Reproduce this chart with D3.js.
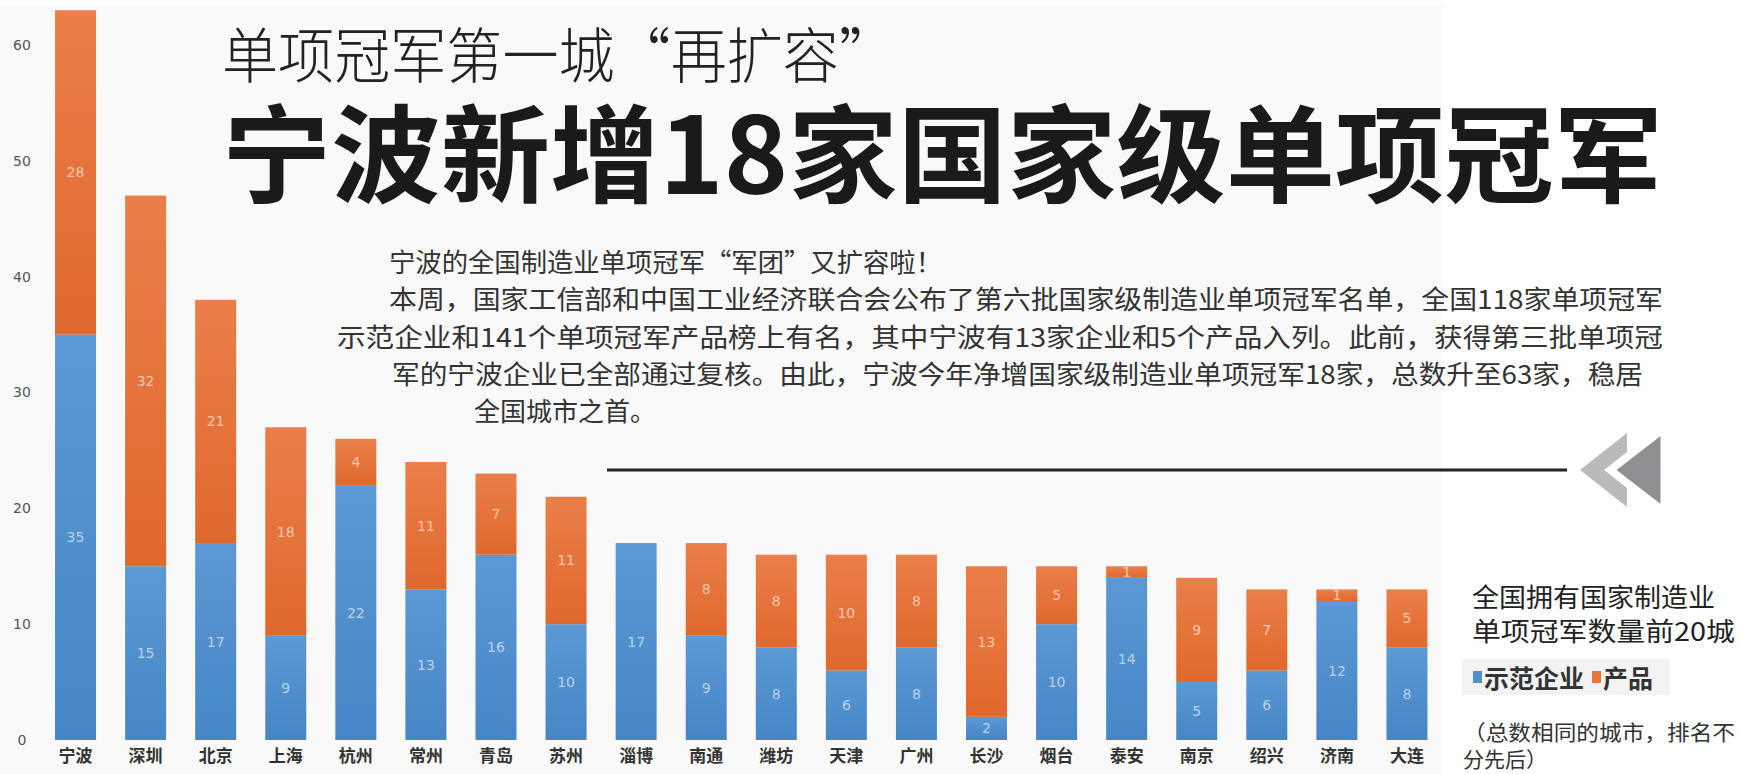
<!DOCTYPE html>
<html>
<head>
<meta charset="utf-8">
<script src="https://cdn.jsdelivr.net/npm/d3@7"></script>
<style>
  body { margin: 0; background: #fff; }
  svg { display: block; }
  .tick text { fill: #555; }
</style>
</head>
<body>
<script>
// data
var cities = ["宁波", "深圳", "北京", "上海", "杭州", "常州", "青岛", "苏州", "淄博", "南通",
              "潍坊", "天津", "广州", "长沙", "烟台", "泰安", "南京", "绍兴", "济南", "大连"];
var enterprises = [35, 15, 17, 9, 22, 13, 16, 10, 17, 9, 8, 6, 8, 2, 10, 14, 5, 6, 12, 8];
var products = [28, 32, 21, 18, 4, 11, 7, 11, 0, 8, 8, 10, 8, 13, 5, 1, 9, 7, 1, 5];
var seriesNames = ["示范企业", "产品"];
var yTicks = [0, 10, 20, 30, 40, 50, 60];

var bodyLines = [
    "宁波的全国制造业单项冠军“军团”又扩容啦！",
    "本周，国家工信部和中国工业经济联合会公布了第六批国家级制造业单项冠军名单，全国118家单项冠军",
    "示范企业和141个单项冠军产品榜上有名，其中宁波有13家企业和5个产品入列。此前，获得第三批单项冠",
    "军的宁波企业已全部通过复核。由此，宁波今年净增国家级制造业单项冠军18家，总数升至63家，稳居",
    "全国城市之首。"
];

// dimensions
var W = 1741, H = 774;
var colors = ["#4f90cd", "#e8743a"];
var font = "'Noto Sans CJK SC', 'Noto Sans', sans-serif";

var svg = d3.select("body").append("svg")
    .attr("width", W)
    .attr("height", H)
    .style("font-family", font);

var defs = svg.append("defs");
[["gBlue", "#5a99d3", "#4786c6"], ["gOrange", "#ea7f4a", "#e0682c"]].forEach(function(g) {
    var lg = defs.append("linearGradient").attr("id", g[0])
        .attr("x1", 0).attr("y1", 0).attr("x2", 0).attr("y2", 1);
    lg.append("stop").attr("offset", "0%").attr("stop-color", g[1]);
    lg.append("stop").attr("offset", "100%").attr("stop-color", g[2]);
});

// light panel behind chart
svg.append("rect").attr("x", 0).attr("y", 6).attr("width", 1443).attr("height", H - 6).attr("fill", "#f9f9f9");

// scales
var x = d3.scaleBand().domain(cities).range([40.5, 1442]).paddingInner(0.415).paddingOuter(0.2075);
var y = d3.scaleLinear().domain([0, 60]).range([740, 45]);

// stacked data
var table = cities.map(function(c, i) { return {city: c, e: enterprises[i], p: products[i]}; });
var stack = d3.stack().keys(["e", "p"])(table);

// y axis
var yAxis = svg.append("g")
    .attr("transform", "translate(32,0)")
    .call(d3.axisLeft(y).tickValues(yTicks).tickSize(0).tickPadding(0));
yAxis.select(".domain").remove();
yAxis.selectAll("text")
    .attr("text-anchor", "middle")
    .attr("x", -10)
    .style("font-size", "14px")
    .style("font-family", "'DejaVu Sans', sans-serif");

// bars
var layers = svg.selectAll(".layer")
    .data(stack)
    .enter().append("g")
    .attr("class", "layer")
    .attr("fill", function(d, i) { return i == 0 ? "url(#gBlue)" : "url(#gOrange)"; });

layers.selectAll("rect")
    .data(function(d) { return d; })
    .enter().append("rect")
    .attr("x", function(d) { return x(d.data.city); })
    .attr("y", function(d) { return y(d[1]); })
    .attr("width", x.bandwidth())
    .attr("height", function(d) { return y(d[0]) - y(d[1]); });

// segment labels
layers.selectAll("text")
    .data(function(d) { return d; })
    .enter().append("text")
    .attr("x", function(d) { return x(d.data.city) + x.bandwidth() / 2; })
    .attr("y", function(d) { return (y(d[0]) + y(d[1])) / 2; })
    .attr("text-anchor", "middle")
    .attr("dominant-baseline", "central")
    .attr("fill", "rgba(255,255,255,0.6)")
    .style("font-size", "14px")
    .style("font-family", "'DejaVu Sans', sans-serif")
    .text(function(d) { var v = d[1] - d[0]; return v > 0 ? v : ""; });

// x axis
var xAxis = svg.append("g")
    .attr("transform", "translate(0,752)")
    .call(d3.axisBottom(x).tickSize(0).tickPadding(0));
xAxis.select(".domain").remove();
xAxis.selectAll("text")
    .attr("dy", "0.6em")
    .style("font-size", "17px")
    .style("font-weight", "bold")
    .style("fill", "#333")
    .style("font-family", font);

// titles
svg.append("text")
    .attr("x", 222).attr("y", 51)
    .attr("dominant-baseline", "central")
    .attr("textLength", 673).attr("lengthAdjust", "spacingAndGlyphs")
    .style("font-size", "60px").style("font-weight", 300).style("fill", "#222")
    .text("单项冠军第一城“再扩容”");

svg.append("text")
    .attr("x", 222).attr("y", 148)
    .attr("dominant-baseline", "central")
    .attr("textLength", 1441).attr("lengthAdjust", "spacingAndGlyphs")
    .style("font-size", "106px").style("font-weight", 700).style("fill", "#1a1a1a")
    .text("宁波新增18家国家级单项冠军");

// body text
var lineX = [389, 389, 337, 392, 474];
var lineY = [260, 297, 335, 372, 409];
var lineLen = [553, 1274, 1326, 1251, null];
bodyLines.forEach(function(t, i) {
    var tx = svg.append("text")
        .attr("x", lineX[i]).attr("y", lineY[i])
        .attr("dominant-baseline", "central")
        .style("font-size", "26px").style("fill", "#333")
        .text(t);
    if (lineLen[i]) tx.attr("textLength", lineLen[i]).attr("lengthAdjust", "spacingAndGlyphs");
});

// rule and chevrons
svg.append("line")
    .attr("x1", 607).attr("x2", 1567).attr("y1", 470).attr("y2", 470)
    .attr("stroke", "#222").attr("stroke-width", 3);
svg.append("polygon")
    .attr("points", "1580,470 1627,433 1627,452 1604,470 1627,488 1627,507")
    .attr("fill", "#b9babc");
svg.append("polygon")
    .attr("points", "1614,470 1662,433 1662,507")
    .attr("fill", "#8f9093").attr("stroke", "#fff").attr("stroke-width", 3);

// legend
svg.append("text")
    .attr("x", 1472).attr("y", 595).attr("dominant-baseline", "central")
    .attr("textLength", 243).attr("lengthAdjust", "spacingAndGlyphs")
    .style("font-size", "26px").style("fill", "#222")
    .text("全国拥有国家制造业");
svg.append("text")
    .attr("x", 1472).attr("y", 629).attr("dominant-baseline", "central")
    .attr("textLength", 263).attr("lengthAdjust", "spacingAndGlyphs")
    .style("font-size", "26px").style("fill", "#222")
    .text("单项冠军数量前20城");

svg.append("rect").attr("x", 1462).attr("y", 659).attr("width", 208).attr("height", 36).attr("fill", "#f3f3f3");
var legX = [1473, 1592];
seriesNames.forEach(function(s, i) {
    svg.append("rect")
        .attr("x", legX[i]).attr("y", 671).attr("width", 9).attr("height", 12)
        .attr("fill", colors[i]);
    svg.append("text")
        .attr("x", legX[i] + 11).attr("y", 677).attr("dominant-baseline", "central")
        .style("font-size", "25px").style("font-weight", "bold").style("fill", "#333")
        .text(s);
});

svg.append("text")
    .attr("x", 1463).attr("y", 731).attr("dominant-baseline", "central")
    .attr("textLength", 272).attr("lengthAdjust", "spacingAndGlyphs")
    .style("font-size", "21px").style("fill", "#333")
    .text("（总数相同的城市，排名不");
svg.append("text")
    .attr("x", 1463).attr("y", 758).attr("dominant-baseline", "central")
    .style("font-size", "21px").style("fill", "#333")
    .text("分先后）");
</script>
</body>
</html>
